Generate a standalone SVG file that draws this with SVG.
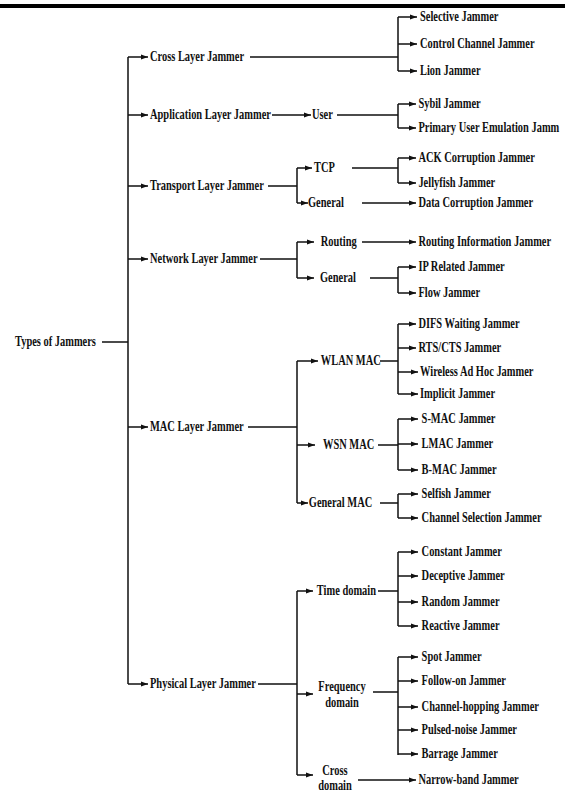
<svg xmlns="http://www.w3.org/2000/svg" width="565" height="792" viewBox="0 0 565 792">
<defs>
<style>
.c{fill:none;stroke:#111;stroke-width:1.5}
.a{marker-end:url(#ah)}
text{font-family:"Liberation Serif","Times New Roman",serif;font-weight:bold;font-size:14.5px;fill:#111}
.m{text-anchor:middle}
</style>
<marker id="ah" markerUnits="userSpaceOnUse" markerWidth="8" markerHeight="6" refX="7" refY="3" orient="auto">
<path d="M0,0.5 L7,3 L0,5.5 z" fill="#111"/>
</marker>
</defs>
<rect x="0" y="4" width="565" height="4" fill="#000"/>
<g id="connectors">
<path class="c" d="M102,342 H128 M128,57 V684"/>
<path class="c a" d="M128,57 H148"/>
<path class="c a" d="M128,115 H148"/>
<path class="c a" d="M128,186 H148"/>
<path class="c a" d="M128,259 H148"/>
<path class="c a" d="M128,427 H148"/>
<path class="c a" d="M128,684 H148"/>
<path class="c" d="M250,57 H398 M398,17 V71"/>
<path class="c a" d="M398,17 H417"/>
<path class="c a" d="M398,44 H417"/>
<path class="c a" d="M398,71 H417"/>
<path class="c a" d="M272,115 H311"/>
<path class="c" d="M337,115 H398 M398,104 V128"/>
<path class="c a" d="M398,104 H416"/>
<path class="c a" d="M398,128 H416"/>
<path class="c" d="M268,186 H297 M297,168 V203"/>
<path class="c a" d="M297,168 H312"/>
<path class="c a" d="M297,203 H308"/>
<path class="c" d="M352,168 H398 M398,158 V183"/>
<path class="c a" d="M398,158 H416"/>
<path class="c a" d="M398,183 H416"/>
<path class="c a" d="M362,203 H416"/>
<path class="c" d="M260,259 H297 M297,242 V278"/>
<path class="c a" d="M297,242 H314"/>
<path class="c a" d="M297,278 H314"/>
<path class="c a" d="M362,242 H416"/>
<path class="c" d="M370,278 H398 M398,267 V293"/>
<path class="c a" d="M398,267 H416"/>
<path class="c a" d="M398,293 H416"/>
<path class="c" d="M248,427 H297 M297,361 V503"/>
<path class="c a" d="M297,361 H318"/>
<path class="c a" d="M297,445 H315"/>
<path class="c a" d="M297,503 H308"/>
<path class="c" d="M380,361 H398 M398,324 V394"/>
<path class="c a" d="M398,324 H416"/>
<path class="c a" d="M398,348 H416"/>
<path class="c a" d="M398,372 H418"/>
<path class="c a" d="M398,394 H418"/>
<path class="c" d="M378,445 H398 M398,419 V470"/>
<path class="c a" d="M398,419 H418"/>
<path class="c a" d="M398,444 H418"/>
<path class="c a" d="M398,470 H418"/>
<path class="c" d="M380,503 H398 M398,494 V518"/>
<path class="c a" d="M398,494 H418"/>
<path class="c a" d="M398,518 H418"/>
<path class="c" d="M258,684 H297 M297,591 V775"/>
<path class="c a" d="M297,591 H313"/>
<path class="c a" d="M297,694 H313"/>
<path class="c a" d="M297,775 H313"/>
<path class="c" d="M378,591 H398 M398,552 V626"/>
<path class="c a" d="M398,552 H418"/>
<path class="c a" d="M398,576 H418"/>
<path class="c a" d="M398,602 H418"/>
<path class="c a" d="M398,626 H418"/>
<path class="c" d="M373,692 H398 M398,657 V755"/>
<path class="c a" d="M398,657 H418"/>
<path class="c a" d="M398,681 H418"/>
<path class="c a" d="M398,707 H418"/>
<path class="c a" d="M398,730 H418"/>
<path class="c a" d="M398,754 H418"/>
<path class="c a" d="M358,780 H416"/>
</g>
<g transform="scale(0.72 1)">
<g id="root"><text x="20.83" y="346.5">Types of Jammers</text></g>
<g id="cross"><text x="208.33" y="61.5">Cross Layer Jammer</text></g>
<g id="app"><text x="208.33" y="119.5">Application Layer Jammer</text></g>
<g id="transport"><text x="208.33" y="190.5">Transport Layer Jammer</text></g>
<g id="network"><text x="208.33" y="263.5">Network Layer Jammer</text></g>
<g id="mac"><text x="208.33" y="431.5">MAC Layer Jammer</text></g>
<g id="physical"><text x="208.33" y="688.5">Physical Layer Jammer</text></g>

<g id="selective"><text x="583.33" y="21.5">Selective Jammer</text></g>
<g id="control"><text x="583.33" y="48.5">Control Channel Jammer</text></g>
<g id="lion"><text x="583.33" y="75.5">Lion Jammer</text></g>

<g id="user"><text x="433.33" y="119.5">User</text></g>
<g id="sybil"><text x="581.11" y="108.5">Sybil Jammer</text></g>
<g id="pue"><text x="581.11" y="132.5">Primary User Emulation Jamm</text></g>

<g id="tcp"><text x="436.11" y="172.5">TCP</text></g>
<g id="general-t"><text x="427.78" y="207.5">General</text></g>
<g id="ack"><text x="581.11" y="162.5">ACK Corruption Jammer</text></g>
<g id="jelly"><text x="581.11" y="187.5">Jellyfish Jammer</text></g>
<g id="datacorr"><text x="581.11" y="207.5">Data Corruption Jammer</text></g>

<g id="routing"><text x="445.56" y="246.5">Routing</text></g>
<g id="general-n"><text x="444.44" y="282.5">General</text></g>
<g id="rij"><text x="581.11" y="246.5">Routing Information Jammer</text></g>
<g id="ip"><text x="581.11" y="271.5">IP Related Jammer</text></g>
<g id="flow"><text x="581.11" y="297.5">Flow Jammer</text></g>

<g id="wlan"><text x="445.56" y="365.5">WLAN MAC</text></g>
<g id="wsn"><text x="448.61" y="449.5">WSN MAC</text></g>
<g id="genmac"><text x="428.89" y="507.5">General MAC</text></g>
<g id="difs"><text x="581.11" y="328.5">DIFS Waiting Jammer</text></g>
<g id="rts"><text x="581.11" y="352.5">RTS/CTS Jammer</text></g>
<g id="adhoc"><text x="583.33" y="376.5">Wireless Ad Hoc Jammer</text></g>
<g id="implicit"><text x="583.33" y="398.5">Implicit Jammer</text></g>
<g id="smac"><text x="585.56" y="423.5">S-MAC Jammer</text></g>
<g id="lmac"><text x="585.56" y="448.5">LMAC Jammer</text></g>
<g id="bmac"><text x="585.56" y="474.5">B-MAC Jammer</text></g>
<g id="selfish"><text x="585.56" y="498.5">Selfish Jammer</text></g>
<g id="chansel"><text x="585.56" y="522.5">Channel Selection Jammer</text></g>

<g id="time"><text x="440" y="595.5">Time domain</text></g>
<g id="freq"><text class="m" x="475" y="691">Frequency</text><text class="m" x="475" y="707">domain</text></g>
<g id="crossd"><text class="m" x="465.28" y="775">Cross</text><text class="m" x="465.28" y="790">domain</text></g>
<g id="constant"><text x="585.56" y="556.5">Constant Jammer</text></g>
<g id="deceptive"><text x="585.56" y="580.5">Deceptive Jammer</text></g>
<g id="random"><text x="585.56" y="606.5">Random Jammer</text></g>
<g id="reactive"><text x="585.56" y="630.5">Reactive Jammer</text></g>
<g id="spot"><text x="585.56" y="661.5">Spot Jammer</text></g>
<g id="follow"><text x="585.56" y="685.5">Follow-on Jammer</text></g>
<g id="hopping"><text x="585.56" y="711.5">Channel-hopping Jammer</text></g>
<g id="pulsed"><text x="585.56" y="734.5">Pulsed-noise Jammer</text></g>
<g id="barrage"><text x="585.56" y="758.5">Barrage Jammer</text></g>
<g id="narrow"><text x="581.11" y="784.5">Narrow-band Jammer</text></g>
</g>
</svg>
